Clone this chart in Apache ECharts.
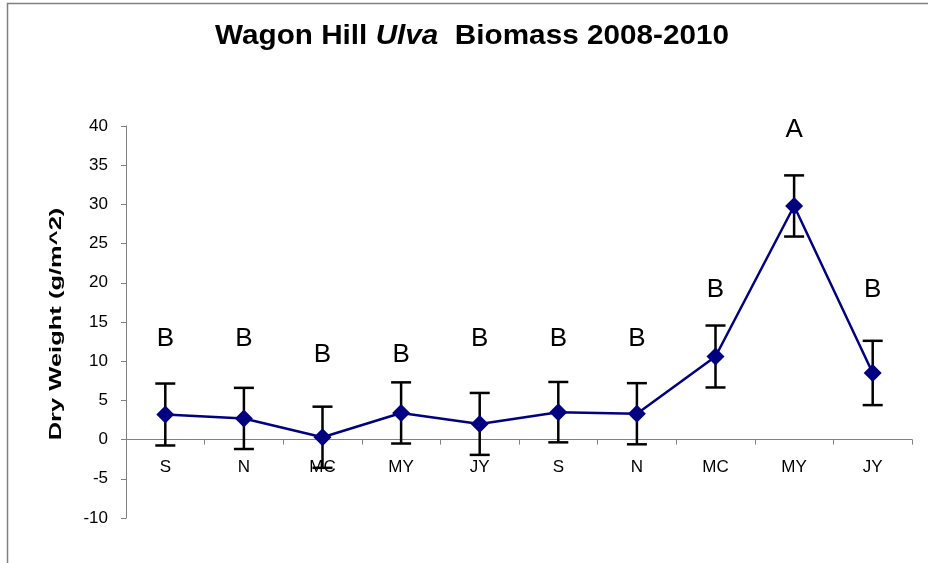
<!DOCTYPE html>
<html>
<head>
<meta charset="utf-8">
<script src="https://cdn.jsdelivr.net/npm/echarts@6/dist/echarts.min.js"></script>
<style>
  html, body { margin: 0; padding: 0; background: #fff; }
  #chart { width: 928px; height: 563px; }
</style>
</head>
<body>
<div id="chart"></div>
<script>
// Sampling months over two seasons
const categories = ['S', 'N', 'MC', 'MY', 'JY', 'S', 'N', 'MC', 'MY', 'JY'];
// Mean dry weight (g/m^2)
const biomass = [3.2, 2.7, 0.3, 3.4, 2.0, 3.5, 3.3, 10.6, 29.8, 8.5];
// Error bar half-widths
const errors = [3.95, 3.9, 3.9, 3.9, 3.95, 3.85, 3.9, 3.95, 3.9, 4.1];
// Significance groups and the height at which each letter sits
const groups = ['B', 'B', 'B', 'B', 'B', 'B', 'B', 'B', 'A', 'B'];
const groupHeights = [12.8, 12.8, 10.8, 10.8, 12.8, 12.8, 12.8, 19.1, 39.5, 19.1];
// Value axis range
const yMin = -10, yMax = 40, yStep = 5;

const FONT = '"Liberation Sans", Arial, sans-serif';
const chart = echarts.init(document.getElementById('chart'));

const errorData = biomass.map((v, i) => [i, v - errors[i], v + errors[i]]);
const letterData = groupHeights.map((h, i) => [i, h, groups[i]]);

chart.setOption({
  animation: false,
  backgroundColor: '#ffffff',
  grid: { left: 126, right: 16, top: 126, bottom: 45, containLabel: false },
  xAxis: {
    type: 'category',
    data: categories,
    boundaryGap: true,
    axisLine: { onZero: true, lineStyle: { color: '#808080', width: 1 } },
    axisTick: { show: true, inside: false, length: 5, alignWithLabel: false, lineStyle: { color: '#808080' } },
    // labels sit just under the zero line
    axisLabel: { color: '#000', fontFamily: FONT, fontSize: 17, margin: -59, interval: 0 },
    splitLine: { show: false }
  },
  yAxis: {
    type: 'value',
    min: yMin, max: yMax, interval: yStep,
    axisLine: { show: true, lineStyle: { color: '#808080', width: 1 } },
    axisTick: { show: true, length: 5, lineStyle: { color: '#808080' } },
    axisLabel: { color: '#000', fontFamily: FONT, fontSize: 17, margin: 18 },
    splitLine: { show: false }
  },
  graphic: [
    {
      type: 'rect', silent: true, z: -1,
      shape: { x: 7.5, y: 3.5, width: 960, height: 600 },
      style: { fill: 'none', stroke: '#808080', lineWidth: 1.5 }
    },
    {
      type: 'text', x: 472, y: 37, scaleX: 1.1, silent: true,
      style: {
        text: '{b|Wagon Hill }{i|Ulva}{b|  Biomass 2008-2010}',
        x: 0, y: 0,
        align: 'center', verticalAlign: 'middle',
        rich: {
          b: { fontFamily: FONT, fontSize: 27, fontWeight: 'bold', fill: '#000' },
          i: { fontFamily: FONT, fontSize: 27, fontWeight: 'bold', fontStyle: 'italic', fill: '#000' }
        }
      }
    },
    {
      type: 'text', x: 57, y: 324, rotation: Math.PI / 2, scaleX: 1.7, scaleY: 1.05, silent: true,
      style: {
        text: 'Dry Weight (g/m^2)',
        x: 0, y: 0,
        align: 'center', verticalAlign: 'middle',
        font: 'bold 15px ' + FONT,
        fill: '#000'
      }
    }
  ],
  series: [
    {
      type: 'custom',
      name: 'error',
      z: 2,
      data: errorData,
      renderItem: function (params, api) {
        const x = api.coord([api.value(0), 0])[0];
        const lo = api.coord([api.value(0), api.value(1)])[1];
        const hi = api.coord([api.value(0), api.value(2)])[1];
        const cap = 10;
        const st = { stroke: '#000', lineWidth: 2.5, fill: 'none' };
        return {
          type: 'group',
          children: [
            { type: 'line', shape: { x1: x, y1: lo, x2: x, y2: hi }, style: st },
            { type: 'line', shape: { x1: x - cap, y1: hi, x2: x + cap, y2: hi }, style: st },
            { type: 'line', shape: { x1: x - cap, y1: lo, x2: x + cap, y2: lo }, style: st }
          ]
        };
      }
    },
    {
      type: 'line',
      name: 'Biomass',
      z: 3,
      data: biomass,
      symbol: 'diamond',
      symbolSize: 18,
      showAllSymbol: true,
      lineStyle: { color: '#000080', width: 2.5 },
      itemStyle: { color: '#000080' }
    },
    {
      type: 'custom',
      name: 'groups',
      z: 4,
      data: letterData,
      renderItem: function (params, api) {
        const p = api.coord([api.value(0), api.value(1)]);
        return {
          type: 'text',
          x: p[0], y: p[1],
          style: {
            text: groups[params.dataIndex],
            x: 0, y: 0,
            align: 'center', verticalAlign: 'middle',
            font: '26px ' + FONT,
            fill: '#000'
          }
        };
      }
    }
  ]
});
</script>
</body>
</html>
